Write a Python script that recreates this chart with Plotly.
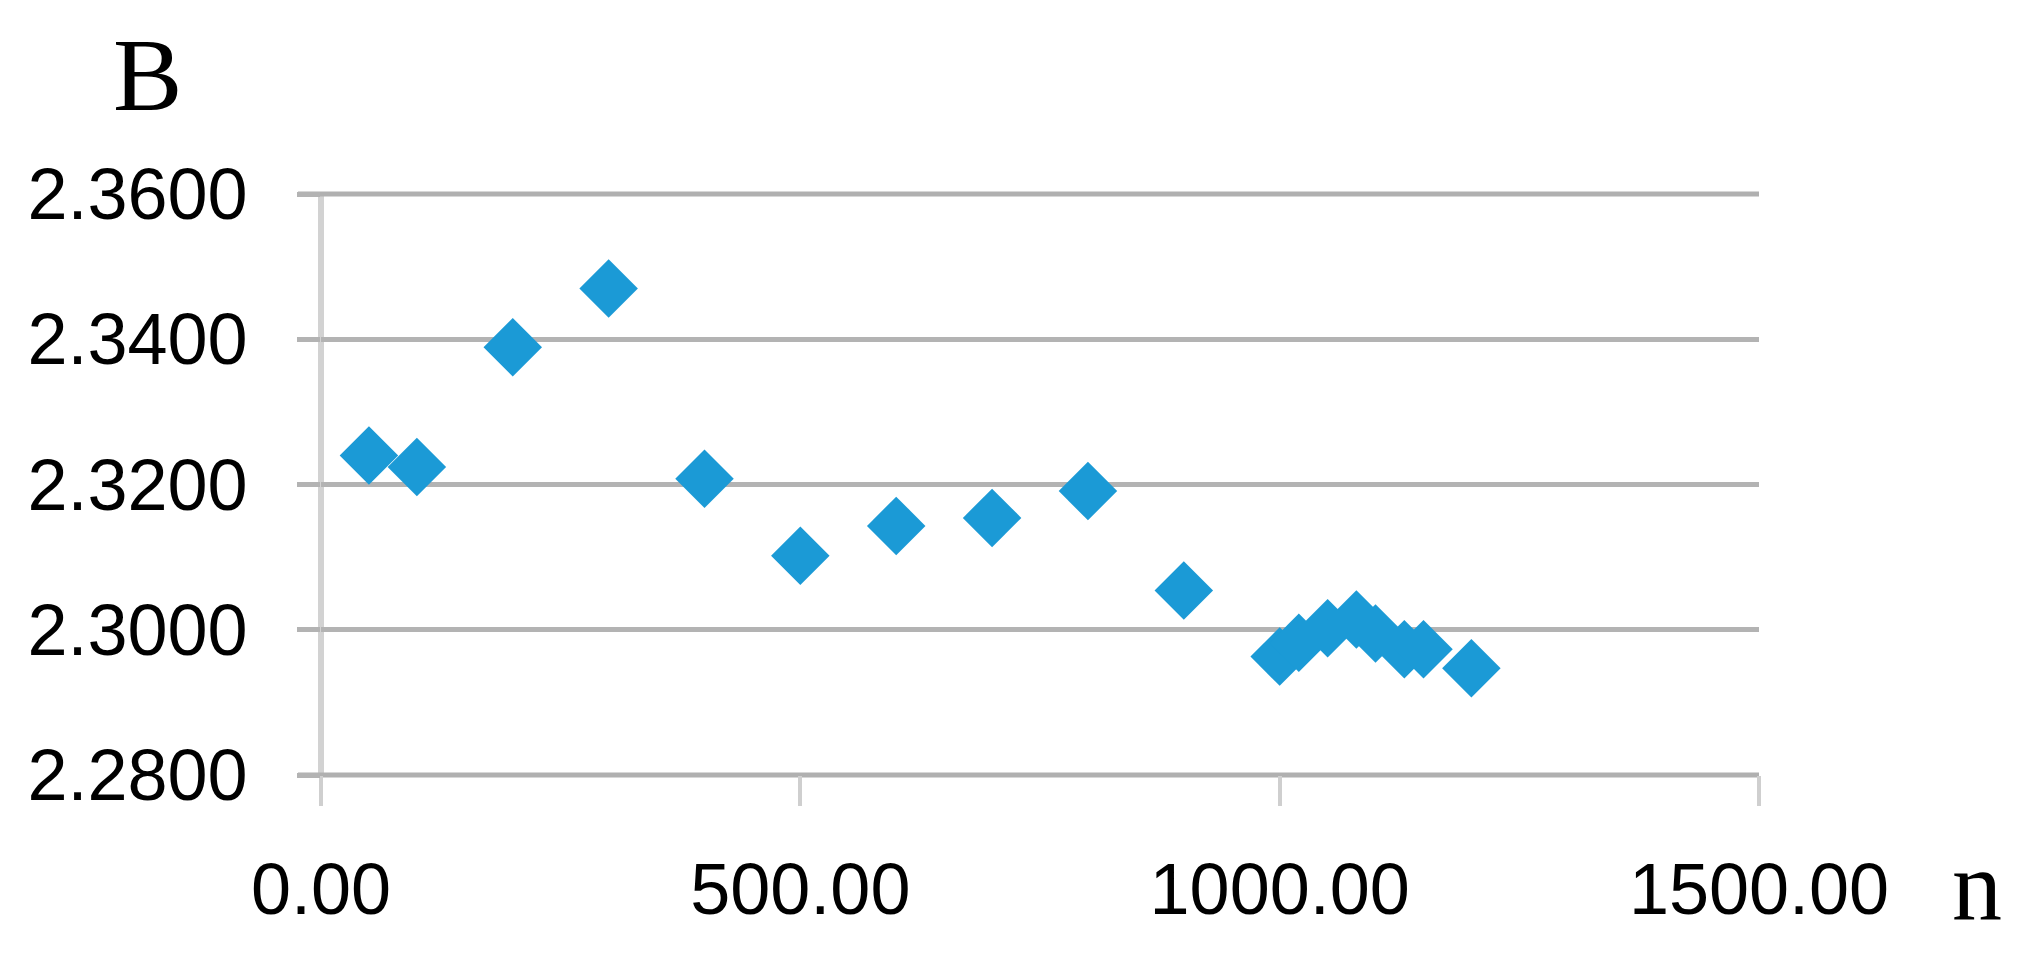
import plotly.graph_objects as go

# n vs B values
n_values = [50, 100, 200, 300, 400, 500, 600, 700, 800, 900,
            1000, 1020, 1050, 1080, 1100, 1130, 1150, 1200]
b_values = [2.3240, 2.3224, 2.3389, 2.3470, 2.3208, 2.3102, 2.3143, 2.3154, 2.3191, 2.3054,
            2.2963, 2.2982, 2.3002, 2.3014, 2.2995, 2.2973, 2.2973, 2.2947]

x_range = [0, 1500]
y_range = [2.28, 2.36]

TICK_FONT = dict(family="Liberation Sans, Arial", size=72, color="#000000")
LABEL_FONT = "Liberation Serif, Times New Roman, serif"

fig = go.Figure()
fig.add_trace(go.Scatter(
    x=n_values, y=b_values, mode="markers",
    marker=dict(symbol="diamond", size=45, color="#1b9ad6", line=dict(width=0)),
    showlegend=False, cliponaxis=False,
))

fig.update_xaxes(
    range=x_range, dtick=500, tick0=0, tickformat=".2f",
    showgrid=False, zeroline=False, showline=False, automargin=False,
    ticks="outside", ticklen=30, tickwidth=4, tickcolor="#cfcfcf",
    tickfont=TICK_FONT, ticklabelstandoff=22,
)
fig.update_yaxes(
    range=y_range, dtick=0.02, tick0=2.28, tickformat=".4f",
    showgrid=True, gridcolor="#b3b3b3", gridwidth=5,
    zeroline=False, showline=False, automargin=False,
    ticks="outside", ticklen=23, tickwidth=5, tickcolor="#b3b3b3",
    tickfont=TICK_FONT, ticklabelstandoff=35,
)

# vertical axis line at n = 0 (light grey)
fig.add_shape(type="line", xref="paper", yref="paper", x0=0, x1=0, y0=0, y1=1,
              line=dict(color="#d2d2d2", width=6), layer="below")
# top and bottom horizontal lines (range edges get no gridline)
for yp in (0, 1):
    fig.add_shape(type="line", xref="paper", yref="paper", x0=-0.016, x1=1, y0=yp, y1=yp,
                  line=dict(color="#b0b0b0", width=5), layer="below")

fig.add_annotation(text="B", xref="paper", yref="paper", x=-0.121, y=1.205,
                   xanchor="center", yanchor="middle", showarrow=False,
                   font=dict(family=LABEL_FONT, size=104, color="#000000"))
fig.add_annotation(text="n", xref="paper", yref="paper", x=1.1516, y=-0.191,
                   xanchor="center", yanchor="middle", showarrow=False,
                   font=dict(family=LABEL_FONT, size=100, color="#000000"))

fig.update_layout(
    width=2030, height=959,
    margin=dict(l=313, r=279, t=186, b=192),
    plot_bgcolor="white", paper_bgcolor="white",
)

fig.write_html("out.html")
